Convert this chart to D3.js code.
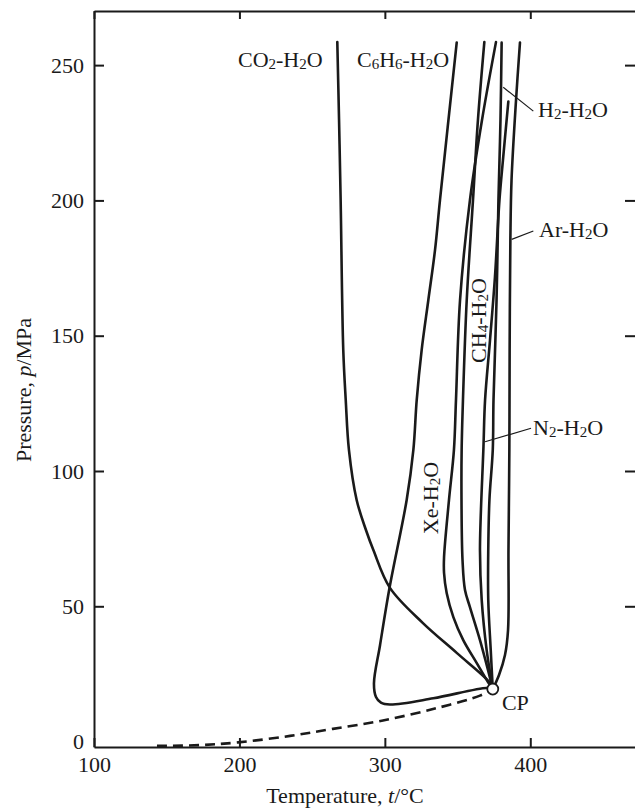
<!DOCTYPE html>
<html>
<head>
<meta charset="utf-8">
<script src="https://cdn.jsdelivr.net/npm/d3@7"></script>
<style>
body { margin: 0; background: #fff; }
text { font-family: "Liberation Serif", "DejaVu Serif", serif; }
</style>
</head>
<body>
<script>
// critical point of pure water (t in C, p in MPa)
var cp = [374.2, 19.4];

// critical curves, [t, p] (all end at cp)
var co2H2O = [[267.3, 258.5], [268.5, 229.7], [269.6, 200.1], [271.4, 144.7], [273.1, 126.2],
    [275.3, 107.8], [280.6, 89.3], [287.0, 78.2], [292.1, 70.8], [303.5, 56.8],
    [326.2, 43.8], [349.6, 32.7], [372.3, 21.7]];
var c6h6H2O = [[349.4, 258.3], [337.9, 200.1], [334.5, 181.7], [329.9, 163.2], [325.3, 144.7],
    [321.9, 126.2], [319.6, 107.8], [315.0, 89.3], [303.3, 57.1], [296.7, 35.7],
    [292.5, 21.5], [293.9, 16.5], [297.3, 14.4], [303.5, 13.7], [333.3, 16.0], [370.0, 19.8]];
var xeH2O = [[376.4, 258.5], [366.8, 229.7], [358.5, 200.1], [351.7, 163.2], [348.9, 126.2],
    [347.5, 107.8], [344.1, 89.3], [340.7, 68.2], [340.7, 62.3], [342.5, 54.9],
    [347.1, 46.0], [353.9, 37.5], [363.2, 29.0], [370.9, 22.0]];
var ch4H2O = [[368.4, 258.5], [364.0, 229.7], [360.6, 200.1], [356.3, 163.2], [353.7, 126.2],
    [352.8, 107.8], [352.7, 89.3], [353.4, 67.1], [355.1, 56.0], [358.5, 49.7],
    [365.4, 37.5], [370.9, 26.5]];
var h2H2O = [[380.3, 258.3], [379.5, 229.7], [378.1, 200.1], [376.8, 163.2], [374.7, 126.2],
    [374.2, 107.8], [371.9, 89.3], [371.1, 70.8], [371.1, 52.3], [372.8, 33.8]];
var n2H2O = [[384.9, 236.5], [381.2, 214.9], [378.8, 200.1], [375.7, 171.7], [372.3, 148.4],
    [368.9, 126.2], [367.8, 108.9], [365.4, 70.8], [366.6, 52.3], [370.0, 33.8], [373.5, 21.7]];
var arH2O = [[392.9, 258.3], [390.2, 237.1], [387.1, 207.5], [386.3, 185.4], [385.8, 144.7],
    [385.6, 107.8], [385.0, 70.8], [384.7, 41.2], [382.6, 32.0], [378.5, 24.6]];

// vapour pressure curve of water (dashed)
var vapour = [[143.3, -1.6], [172.9, -1.3], [199.0, -0.3], [234.8, 2.1], [264.3, 4.7],
    [298.7, 7.8], [335.9, 12.4], [365.4, 17.0], [372.3, 18.9]];

var xTicks = [100, 200, 300, 400];
var yTicks = [0, 50, 100, 150, 200, 250];

var width = 635, height = 810;
var font = '"Liberation Serif", "DejaVu Serif", serif';

var x = d3.scaleLinear().domain([100, 472]).range([94, 635]);
var y = d3.scaleLinear().domain([-2, 270]).range([747, 11]);

var svg = d3.select('body').append('svg')
    .attr('width', width)
    .attr('height', height);

function styleAxis(g) {
    g.attr('font-family', font).attr('font-size', 22);
    g.selectAll('path').attr('stroke', '#1a1a1a').attr('stroke-width', 2);
    g.selectAll('line').attr('stroke', '#1a1a1a').attr('stroke-width', 2);
    g.selectAll('text').attr('fill', '#1a1a1a');
}

// frame with inward ticks
svg.append('g')
    .attr('transform', 'translate(0,747)')
    .call(d3.axisBottom(x).tickValues(xTicks).tickSizeInner(-9).tickSizeOuter(0).tickPadding(9))
    .call(styleAxis);

svg.append('g')
    .attr('transform', 'translate(0,11)')
    .call(d3.axisTop(x).tickValues(xTicks).tickSizeInner(-8).tickSizeOuter(0).tickFormat(''))
    .call(styleAxis);

var left = svg.append('g')
    .attr('transform', 'translate(94,0)')
    .call(d3.axisLeft(y).tickValues(yTicks).tickSizeInner(-10).tickSizeOuter(0).tickPadding(10))
    .call(styleAxis);
left.selectAll('.tick line').filter(function (d) { return d === 0; }).remove();

var right = svg.append('g')
    .attr('transform', 'translate(635,0)')
    .call(d3.axisRight(y).tickValues(yTicks).tickSizeInner(-10).tickSizeOuter(0).tickFormat(''))
    .call(styleAxis);
right.select('.domain').remove();
right.selectAll('.tick line').filter(function (d) { return d === 0; }).remove();

// axis titles
var yTitle = svg.append('text')
    .attr('transform', 'translate(31,390) rotate(-90)')
    .attr('text-anchor', 'middle')
    .attr('font-size', 22)
    .attr('fill', '#1a1a1a');
yTitle.append('tspan').text('Pressure, ');
yTitle.append('tspan').attr('font-style', 'italic').text('p');
yTitle.append('tspan').text('/MPa');

var xTitle = svg.append('text')
    .attr('x', 345)
    .attr('y', 803)
    .attr('text-anchor', 'middle')
    .attr('font-size', 22)
    .attr('fill', '#1a1a1a');
xTitle.append('tspan').text('Temperature, ');
xTitle.append('tspan').attr('font-style', 'italic').text('t');
xTitle.append('tspan').text('/°C');

// curves
var line = d3.line()
    .x(function (d) { return x(d[0]); })
    .y(function (d) { return y(d[1]); })
    .curve(d3.curveCatmullRom.alpha(0.5));

var curves = [co2H2O, c6h6H2O, xeH2O, ch4H2O, h2H2O, n2H2O, arH2O];
svg.selectAll('.crit')
    .data(curves)
    .enter().append('path')
    .attr('class', 'crit')
    .attr('d', function (d) { return line(d.concat([cp])); })
    .attr('fill', 'none')
    .attr('stroke', '#1a1a1a')
    .attr('stroke-width', 2.6)
    .attr('stroke-linejoin', 'round')
    .attr('stroke-linecap', 'round');

svg.append('path')
    .attr('d', line(vapour.concat([cp])))
    .attr('fill', 'none')
    .attr('stroke', '#1a1a1a')
    .attr('stroke-width', 2.6)
    .attr('stroke-dasharray', '10,6');

// leader lines for the labels on the right
var pointers = [
    [[381.4, 241.8], [402.1, 233.0]],
    [[387.2, 185.6], [402.1, 188.7]],
    [[368.9, 110.8], [400.5, 115.8]]
];
svg.selectAll('.ptr')
    .data(pointers)
    .enter().append('line')
    .attr('class', 'ptr')
    .attr('x1', function (d) { return x(d[0][0]); })
    .attr('y1', function (d) { return y(d[0][1]); })
    .attr('x2', function (d) { return x(d[1][0]); })
    .attr('y2', function (d) { return y(d[1][1]); })
    .attr('stroke', '#1a1a1a')
    .attr('stroke-width', 1.2);

// labels: parts are [text, isSubscript]
function chem(parts, t, p, rotate) {
    var tx = svg.append('text')
        .attr('font-size', 22)
        .attr('fill', '#1a1a1a');
    if (rotate) {
        tx.attr('transform', 'translate(' + x(t) + ',' + y(p) + ') rotate(-90)')
            .attr('text-anchor', 'middle');
    } else {
        tx.attr('x', x(t)).attr('y', y(p));
    }
    var shift = 0;
    parts.forEach(function (pt) {
        var s = tx.append('tspan').text(pt[0]);
        if (pt[1]) {
            s.attr('font-size', 15).attr('dy', 2 - shift);
            shift = 2;
        } else {
            s.attr('dy', -shift);
            shift = 0;
        }
    });
}

chem([['CO', 0], ['2', 1], ['-H', 0], ['2', 1], ['O', 0]], 199.0, 249.3);
chem([['C', 0], ['6', 1], ['H', 0], ['6', 1], ['-H', 0], ['2', 1], ['O', 0]], 280.8, 249.3);
chem([['H', 0], ['2', 1], ['-H', 0], ['2', 1], ['O', 0]], 405.3, 230.8);
chem([['Ar-H', 0], ['2', 1], ['O', 0]], 406.0, 186.5);
chem([['N', 0], ['2', 1], ['-H', 0], ['2', 1], ['O', 0]], 401.9, 113.3);
chem([['CH', 0], ['4', 1], ['-H', 0], ['2', 1], ['O', 0]], 369.5, 155.6, true);
chem([['Xe-H', 0], ['2', 1], ['O', 0]], 336.5, 90.0, true);

svg.append('text')
    .attr('x', x(380.5))
    .attr('y', y(11.7))
    .attr('font-size', 22)
    .attr('fill', '#1a1a1a')
    .text('CP');

// critical point marker
svg.append('circle')
    .attr('cx', x(cp[0]))
    .attr('cy', y(cp[1]))
    .attr('r', 5.5)
    .attr('fill', '#fff')
    .attr('stroke', '#1a1a1a')
    .attr('stroke-width', 1.8);
</script>
</body>
</html>
